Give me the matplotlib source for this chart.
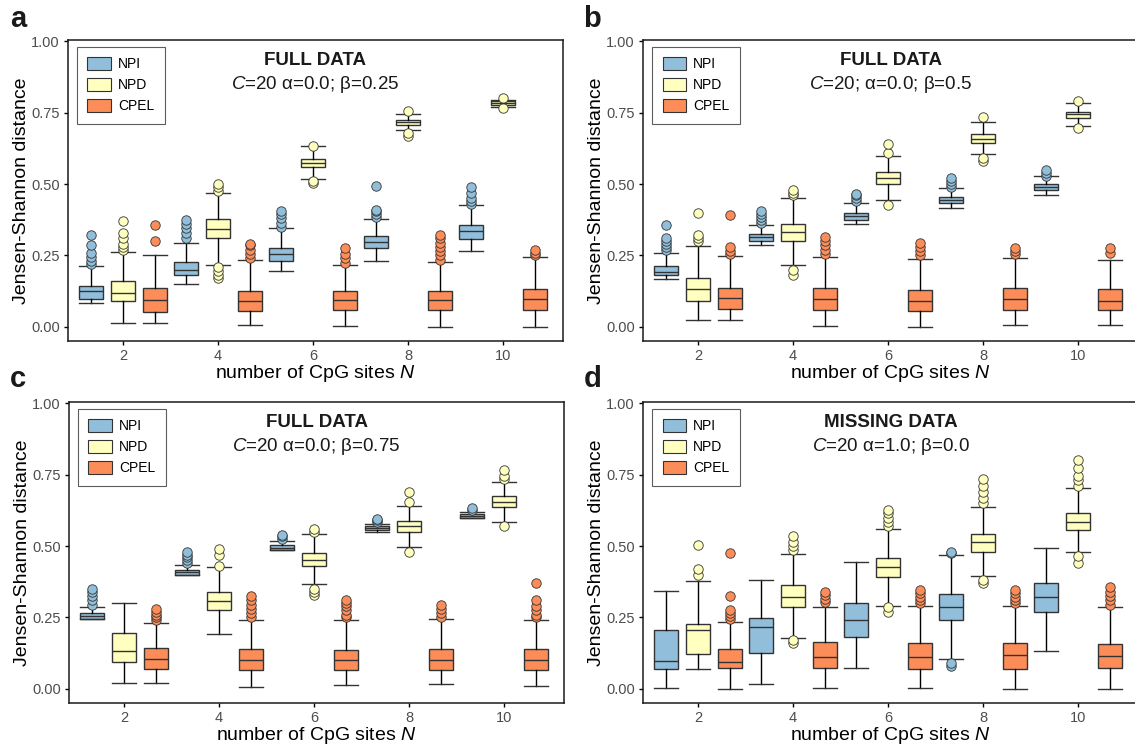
import matplotlib
matplotlib.use("Agg")
import matplotlib.pyplot as plt
from matplotlib.patches import Patch

plt.rcParams['font.family'] = ['Liberation Sans', 'DejaVu Sans']
plt.rcParams['mathtext.fontset'] = 'custom'
plt.rcParams['mathtext.rm'] = 'Liberation Sans'
plt.rcParams['mathtext.it'] = 'Liberation Sans:italic'

n_sites = [2, 4, 6, 8, 10]
methods = ["NPI", "NPD", "CPEL"]
colors = ["#91BFDB", "#FFFFBF", "#FC8D59"]

# box statistics, rows = NPI, NPD, CPEL; columns = N
# panel a: full data, beta = 0.25
a_lo = [[0.084, 0.150, 0.197, 0.230, 0.266],
        [0.014, 0.218, 0.519, 0.688, 0.770],
        [0.014, 0.005, 0.001, 0.000, 0.000]]
a_q1 = [[0.097, 0.180, 0.231, 0.276, 0.309],
        [0.090, 0.312, 0.559, 0.707, 0.776],
        [0.052, 0.054, 0.057, 0.057, 0.057]]
a_med = [[0.126, 0.200, 0.256, 0.297, 0.334],
         [0.117, 0.344, 0.575, 0.716, 0.783],
         [0.093, 0.090, 0.093, 0.093, 0.097]]
a_q3 = [[0.143, 0.227, 0.277, 0.319, 0.358],
        [0.160, 0.376, 0.587, 0.726, 0.790],
        [0.136, 0.127, 0.125, 0.127, 0.134]]
a_hi = [[0.212, 0.295, 0.346, 0.379, 0.427],
        [0.262, 0.470, 0.632, 0.746, 0.796],
        [0.253, 0.234, 0.218, 0.228, 0.246]]
a_out = [
    [[0.22, 0.23, 0.245, 0.26, 0.285, 0.32], [0.31, 0.33, 0.345, 0.36, 0.375],
     [0.35, 0.365, 0.38, 0.395, 0.405], [0.385, 0.395, 0.405, 0.41, 0.495],
     [0.43, 0.44, 0.45, 0.47, 0.49]],
    [[0.27, 0.28, 0.29, 0.31, 0.33, 0.37], [0.17, 0.18, 0.195, 0.21, 0.475, 0.49, 0.50],
     [0.505, 0.51, 0.635], [0.67, 0.68, 0.755], [0.765, 0.80]],
    [[0.30, 0.358], [0.24, 0.255, 0.27, 0.285, 0.29], [0.225, 0.24, 0.255, 0.275],
     [0.235, 0.25, 0.265, 0.28, 0.295, 0.31, 0.32], [0.25, 0.26, 0.27]]]

# panel b: full data, beta = 0.5
b_lo = [[0.169, 0.288, 0.360, 0.416, 0.463],
        [0.023, 0.216, 0.444, 0.605, 0.702],
        [0.023, 0.002, 0.000, 0.005, 0.005]]
b_q1 = [[0.183, 0.300, 0.375, 0.434, 0.480],
        [0.090, 0.300, 0.500, 0.643, 0.732],
        [0.063, 0.058, 0.055, 0.059, 0.058]]
b_med = [[0.192, 0.314, 0.387, 0.444, 0.491],
         [0.132, 0.332, 0.522, 0.658, 0.744],
         [0.099, 0.096, 0.091, 0.096, 0.091]]
b_q3 = [[0.213, 0.325, 0.399, 0.455, 0.500],
        [0.171, 0.360, 0.542, 0.675, 0.754],
        [0.136, 0.136, 0.130, 0.136, 0.134]]
b_hi = [[0.259, 0.358, 0.434, 0.486, 0.527],
        [0.282, 0.450, 0.597, 0.718, 0.784],
        [0.247, 0.244, 0.239, 0.241, 0.233]]
b_out = [
    [[0.27, 0.28, 0.29, 0.30, 0.31, 0.358], [0.365, 0.375, 0.385, 0.395, 0.405],
     [0.44, 0.45, 0.46, 0.465], [0.49, 0.50, 0.51, 0.52], [0.53, 0.54, 0.55]],
    [[0.30, 0.31, 0.32, 0.399], [0.18, 0.20, 0.46, 0.47, 0.48], [0.425, 0.61, 0.642],
     [0.58, 0.59, 0.734], [0.695, 0.79]],
    [[0.255, 0.265, 0.28, 0.393], [0.255, 0.27, 0.285, 0.30, 0.315],
     [0.25, 0.265, 0.28, 0.295], [0.255, 0.265, 0.275], [0.26, 0.275]]]

# panel c: full data, beta = 0.75
c_lo = [[0.245, 0.397, 0.487, 0.549, 0.597],
        [0.021, 0.193, 0.367, 0.498, 0.583],
        [0.021, 0.007, 0.012, 0.015, 0.009]]
c_q1 = [[0.245, 0.400, 0.487, 0.556, 0.600],
        [0.094, 0.277, 0.429, 0.549, 0.638],
        [0.070, 0.064, 0.066, 0.066, 0.064]]
c_med = [[0.256, 0.408, 0.495, 0.563, 0.607],
         [0.132, 0.309, 0.452, 0.571, 0.656],
         [0.105, 0.101, 0.101, 0.101, 0.101]]
c_q3 = [[0.265, 0.416, 0.503, 0.569, 0.613],
        [0.195, 0.339, 0.476, 0.587, 0.674],
        [0.143, 0.138, 0.136, 0.138, 0.138]]
c_hi = [[0.288, 0.432, 0.517, 0.577, 0.621],
        [0.300, 0.425, 0.541, 0.642, 0.726],
        [0.231, 0.241, 0.241, 0.244, 0.241]]
c_out = [
    [[0.295, 0.31, 0.325, 0.34, 0.35], [0.44, 0.45, 0.46, 0.47, 0.48],
     [0.525, 0.535, 0.54], [0.585, 0.59, 0.595], [0.625, 0.635]],
    [[], [0.43, 0.47, 0.49], [0.33, 0.34, 0.35, 0.55, 0.56], [0.48, 0.655, 0.69],
     [0.57, 0.735, 0.745, 0.765]],
    [[0.24, 0.25, 0.26, 0.27, 0.28], [0.25, 0.265, 0.28, 0.295, 0.31, 0.325],
     [0.25, 0.26, 0.275, 0.29, 0.30, 0.31], [0.25, 0.265, 0.28, 0.295],
     [0.25, 0.26, 0.275, 0.29, 0.31, 0.37]]]

# panel d: missing data, alpha = 1.0
d_lo = [[0.003, 0.015, 0.072, 0.104, 0.133],
        [0.070, 0.178, 0.291, 0.394, 0.480],
        [0.000, 0.001, 0.003, 0.000, 0.000]]
d_q1 = [[0.068, 0.125, 0.182, 0.240, 0.269],
        [0.122, 0.287, 0.392, 0.480, 0.557],
        [0.071, 0.071, 0.070, 0.070, 0.073]]
d_med = [[0.097, 0.216, 0.242, 0.286, 0.323],
         [0.207, 0.322, 0.427, 0.515, 0.586],
         [0.094, 0.112, 0.111, 0.117, 0.114]]
d_q3 = [[0.205, 0.248, 0.300, 0.332, 0.371],
        [0.227, 0.362, 0.459, 0.544, 0.615],
        [0.138, 0.163, 0.161, 0.161, 0.158]]
d_hi = [[0.344, 0.380, 0.443, 0.467, 0.495],
        [0.379, 0.473, 0.559, 0.636, 0.703],
        [0.233, 0.287, 0.289, 0.289, 0.286]]
d_out = [
    [[], [], [], [0.08, 0.09, 0.475, 0.48], []],
    [[0.40, 0.42, 0.505], [0.16, 0.17, 0.485, 0.50, 0.515, 0.535],
     [0.27, 0.285, 0.57, 0.585, 0.60, 0.615, 0.625],
     [0.37, 0.38, 0.65, 0.67, 0.69, 0.71, 0.735],
     [0.44, 0.465, 0.71, 0.73, 0.745, 0.775, 0.80]],
    [[0.245, 0.255, 0.265, 0.275, 0.325, 0.475], [0.305, 0.315, 0.33, 0.34],
     [0.30, 0.31, 0.32, 0.335, 0.345], [0.30, 0.31, 0.32, 0.335, 0.345],
     [0.295, 0.31, 0.325, 0.34, 0.355]]]

offsets = [-0.67, 0.0, 0.67]
box_w = 0.5
edge = "#333333"


def draw_panel(ax, lo, q1, med, q3, hi, out, title, subtitle, xmax=11.26, title_x=0.5):
    for m in range(len(methods)):
        stats = []
        for i in range(len(n_sites)):
            stats.append(dict(whislo=lo[m][i], q1=q1[m][i], med=med[m][i],
                              q3=q3[m][i], whishi=hi[m][i], fliers=out[m][i]))
        pos = [n + offsets[m] for n in n_sites]
        ax.bxp(stats, positions=pos, widths=box_w, capwidths=box_w,
               patch_artist=True, manage_ticks=False,
               boxprops=dict(facecolor=colors[m], edgecolor=edge, linewidth=1.0),
               medianprops=dict(color=edge, linewidth=1.0),
               whiskerprops=dict(color="black", linewidth=1.0),
               capprops=dict(color=edge, linewidth=1.0),
               flierprops=dict(marker="o", markerfacecolor=colors[m],
                               markeredgecolor=edge, markeredgewidth=0.6,
                               markersize=6.8))

    ax.set_xlim(0.84, xmax)
    ax.set_ylim(-0.05, 1.005)
    ax.set_xticks(n_sites)
    ax.set_yticks([0, 0.25, 0.5, 0.75, 1.0])
    ax.set_yticklabels(["0.00", "0.25", "0.50", "0.75", "1.00"])
    ax.tick_params(length=3, width=1, colors="black", labelcolor="#4d4d4d",
                   labelsize=10.5, pad=3)
    for sp in ax.spines.values():
        sp.set_linewidth(1.1)
        sp.set_color("#1a1a1a")
    ax.set_xlabel(r"number of CpG sites $N$", fontsize=14, labelpad=0, x=title_x)
    ax.set_ylabel("Jensen-Shannon distance", fontsize=14, labelpad=1)

    ax.text(title_x, 0.932, title, transform=ax.transAxes, ha="center", va="center",
            fontsize=13.5, fontweight="bold", color="#1a1a1a")
    ax.text(title_x, 0.853, subtitle, transform=ax.transAxes, ha="center", va="center",
            fontsize=13.5, color="#1a1a1a")

    handles = [Patch(facecolor=c, edgecolor=edge, linewidth=0.8) for c in colors]
    leg = ax.legend(handles, methods, loc="upper left", bbox_to_anchor=(0.018, 0.977),
                    fontsize=10, frameon=True, fancybox=False, handlelength=1.7,
                    handleheight=1.0, labelspacing=0.5, borderpad=0.75,
                    handletextpad=0.5, borderaxespad=0)
    leg.get_frame().set_edgecolor(edge)
    leg.get_frame().set_linewidth(0.8)


fig = plt.figure(figsize=(11.35, 7.5), dpi=100)
W, H = 1135, 750
ax_a = fig.add_axes([68 / W, 1 - 341 / H, 495 / W, 301 / H])
# right-hand panels run slightly past the figure edge
ax_b = fig.add_axes([643 / W, 1 - 341 / H, 505 / W, 301 / H])
ax_c = fig.add_axes([69 / W, 1 - 703 / H, 495 / W, 301 / H])
ax_d = fig.add_axes([643 / W, 1 - 703 / H, 505 / W, 301 / H])

xmax_right = 11.26 + 10 / 47.5
tx_right = 247.5 / 505

draw_panel(ax_a, a_lo, a_q1, a_med, a_q3, a_hi, a_out,
           "FULL DATA", r"$C$=20 α=0.0; β=0.25")
draw_panel(ax_b, b_lo, b_q1, b_med, b_q3, b_hi, b_out,
           "FULL DATA", r"$C$=20; α=0.0; β=0.5", xmax_right, tx_right)
draw_panel(ax_c, c_lo, c_q1, c_med, c_q3, c_hi, c_out,
           "FULL DATA", r"$C$=20 α=0.0; β=0.75")
draw_panel(ax_d, d_lo, d_q1, d_med, d_q3, d_hi, d_out,
           "MISSING DATA", r"$C$=20 α=1.0; β=0.0", xmax_right, tx_right)

# panel letters
for letter, x, y in [("a", 18, 27), ("b", 592, 27), ("c", 18, 387), ("d", 593, 387)]:
    fig.text(x / W, 1 - y / H, letter, ha="center", va="baseline",
             fontsize=21, fontweight="bold", color="#1a1a1a")

fig.savefig("out.png", dpi=100)
